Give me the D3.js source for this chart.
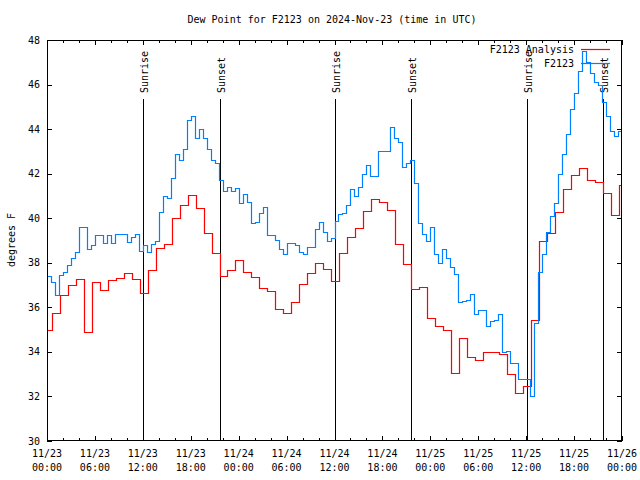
<!DOCTYPE html>
<html><head><meta charset="utf-8">
<script src="https://cdn.jsdelivr.net/npm/d3@7"></script>
<style>
body{margin:0;background:#fff}
svg{display:block}
text{font-family:"DejaVu Sans Mono","Liberation Mono",monospace;font-size:10px;fill:#000}
</style></head><body>
<svg id="c" width="640" height="480"></svg>
<script>
const title = "Dew Point for F2123 on 2024-Nov-23 (time in UTC)";
const yLabel = "degrees F";
const seriesNames = ["F2123 Analysis", "F2123"];
const seriesColors = ["#ff0000", "#0080ff"];
const yTicks = [30, 32, 34, 36, 38, 40, 42, 44, 46, 48];
const xTickLabels = [
  ["11/23","00:00"],["11/23","06:00"],["11/23","12:00"],["11/23","18:00"],
  ["11/24","00:00"],["11/24","06:00"],["11/24","12:00"],["11/24","18:00"],
  ["11/25","00:00"],["11/25","06:00"],["11/25","12:00"],["11/25","18:00"],
  ["11/26","00:00"]
];
const xStart = "2024-11-23T00:00:00Z";
const xEnd = "2024-11-26T00:00:00Z";
const sunLabels = ["Sunrise","Sunset","Sunrise","Sunset","Sunrise","Sunset"];
const sunTimes = ["2024-11-23T12:04:00Z","2024-11-23T21:42:00Z","2024-11-24T12:05:00Z",
                  "2024-11-24T21:38:00Z","2024-11-25T12:05:00Z","2024-11-25T21:40:00Z"];

// Analysis: hourly values, each starting at analysisStart + k hours
const analysisStart = "2024-11-22T23:36:00Z";
const analysisValues = [
  35.0, 35.73, 36.54, 36.99, 37.28, 34.9, 37.12, 36.78, 37.23, 37.32, 37.53, 37.28,
  36.63, 37.67, 38.66, 38.84, 40.0, 40.58, 41.06, 40.44, 39.35, 38.45, 37.40, 37.67,
  38.12, 37.59, 37.38, 36.85, 36.75, 35.91, 35.73, 36.25, 37.03, 37.55, 38.0, 37.73,
  37.18, 38.42, 39.14, 39.56, 40.34, 40.85, 40.73, 40.37, 38.84, 37.94, 36.81, 36.90,
  35.5, 35.16, 34.98, 33.04, 34.61, 33.76, 33.64, 34.0, 34.0, 33.9, 33.0, 32.14,
  32.49, 35.43, 39.0, 39.32, 40.3, 41.3, 41.94, 42.25, 41.71, 41.62, 41.12, 40.16, 41.48
];
// Observations: every 30 minutes from obsStart
const obsStart = "2024-11-23T00:00:00Z";
const obsValues = [
  37.41, 37.14, 36.57, 37.44, 37.6, 37.9, 38.2, 38.5, 39.59, 39.59, 38.6, 38.8,
  39.25, 39.25, 38.9, 39.25, 38.9, 39.29, 39.29, 39.29, 38.95, 39.14, 39.3, 38.54,
  38.8, 38.5, 38.85, 39.0, 40.3, 41.0, 40.9, 41.8, 42.9, 42.6, 43.1, 44.4,
  44.6, 43.6, 44.0, 43.6, 43.1, 42.6, 42.5, 41.7, 41.2, 41.4, 41.2, 41.35,
  40.7, 41.1, 40.74, 39.8, 39.84, 40.22, 40.52, 39.25, 39.25, 39.02, 38.6, 38.4,
  38.9, 38.9, 38.8, 38.5, 38.4, 38.7, 38.7, 39.5, 39.84, 39.4, 39.0, 39.1,
  39.89, 40.2, 40.22, 40.6, 41.3, 41.0, 41.4, 42.0, 42.4, 41.9, 41.9, 43.0,
  43.0, 43.0, 44.1, 43.6, 43.4, 42.3, 42.5, 42.6, 41.6, 39.8, 39.3, 39.0,
  39.59, 38.4, 38.0, 38.6, 38.2, 37.8, 37.5, 36.25, 36.3, 36.33, 36.6, 35.7,
  35.88, 35.88, 35.16, 35.4, 35.44, 35.7, 34.0, 34.05, 33.49, 33.5, 32.77, 32.77,
  32.77, 32.0, 35.3, 37.6, 38.4, 39.4, 40.1, 40.7, 42.0, 42.9, 43.8, 44.9,
  45.6, 46.6, 47.5, 47.0, 46.5, 46.1, 46.0, 45.2, 44.6, 43.9, 43.7, 43.9, 43.9
];

const HOUR = 3600e3;
const svg = d3.select("#c");
const L = 47, R = 622, T = 40, B = 441;
const x = d3.scaleUtc().domain([new Date(xStart), new Date(xEnd)]).range([L, R]);
const y = d3.scaleLinear().domain([30, 48]).range([B, T]);

const aStart = +new Date(analysisStart);
const analysis = analysisValues.map((v, k) => ({t: new Date(aStart + k * HOUR), v}));
analysis.push({t: new Date(aStart + analysisValues.length * HOUR), v: analysisValues[analysisValues.length - 1]});
const oStart = +new Date(obsStart);
const obs = obsValues.map((v, i) => ({t: new Date(oStart + i * HOUR / 2), v}));

svg.append("defs").append("clipPath").attr("id", "clip")
  .append("rect").attr("x", L).attr("y", T).attr("width", R - L).attr("height", B - T);

// Title
svg.append("text").attr("x", 332).attr("y", 23).attr("text-anchor", "middle").text(title);
// Y label
svg.append("text").attr("transform", "translate(15,240) rotate(-90)")
  .attr("text-anchor", "middle").text(yLabel);

// Sunrise / sunset
const sunG = svg.append("g");
sunTimes.forEach((s, i) => {
  const sx = Math.round(x(new Date(s))) + 0.5;
  sunG.append("line").attr("x1", sx).attr("x2", sx).attr("y1", 99).attr("y2", B)
    .attr("stroke", "#000").attr("stroke-width", 1).attr("shape-rendering", "crispEdges");
  sunG.append("text").attr("transform", `translate(${sx + 4},93) rotate(-90)`)
    .attr("text-anchor", "start").text(sunLabels[i]);
});

// Series (snap to pixel centres so 1px lines stay solid)
const line = d3.line()
  .x(d => Math.round(x(d.t)) + 0.5)
  .y(d => Math.round(y(d.v)) + 0.5)
  .curve(d3.curveStepAfter);
const dataG = svg.append("g").attr("clip-path", "url(#clip)");
dataG.append("path").datum(analysis).attr("d", line).attr("fill", "none")
  .attr("stroke", seriesColors[0]).attr("stroke-width", 1.2);
dataG.append("path").datum(obs).attr("d", line).attr("fill", "none")
  .attr("stroke", seriesColors[1]).attr("stroke-width", 1.2);

// Axes (gnuplot style, ticks inward, mirrored)
const major = d3.utcHour.every(6).range(new Date(xStart), new Date(+new Date(xEnd) + 1));
const minor = d3.utcHour.every(2).range(new Date(xStart), new Date(+new Date(xEnd) + 1))
  .filter(d => d.getUTCHours() % 6 !== 0);
function xAxisG(gen, yPos, size, vals) {
  const g = svg.append("g").attr("transform", `translate(0,${yPos})`)
    .call(gen(x).tickValues(vals).tickSize(size).tickSizeOuter(0).tickFormat(""));
  g.select(".domain").remove();
  g.selectAll("line").attr("shape-rendering", "crispEdges");
  return g;
}
xAxisG(d3.axisBottom, B, -5, major);
xAxisG(d3.axisBottom, B, -3, minor);
xAxisG(d3.axisTop, T, -5, major);
xAxisG(d3.axisTop, T, -3, minor);
function yAxisG(gen, xPos) {
  const g = svg.append("g").attr("transform", `translate(${xPos},0)`)
    .call(gen(y).tickValues(yTicks).tickSize(-5).tickSizeOuter(0).tickFormat(""));
  g.select(".domain").remove();
  g.selectAll("line").attr("shape-rendering", "crispEdges");
}
yAxisG(d3.axisLeft, L);
yAxisG(d3.axisRight, R);

// Tick labels
svg.append("g").selectAll("text").data(yTicks).join("text")
  .attr("x", L - 7).attr("y", d => y(d)).attr("dy", "0.35em")
  .attr("text-anchor", "end").text(d => d);
const xl = svg.append("g").selectAll("text").data(major).join("text")
  .attr("text-anchor", "middle");
xl.append("tspan").attr("x", d => x(d)).attr("y", 457).text((d, i) => xTickLabels[i][0]);
xl.append("tspan").attr("x", d => x(d)).attr("y", 471).text((d, i) => xTickLabels[i][1]);

// Border
svg.append("rect").attr("x", L + 0.5).attr("y", T + 0.5).attr("width", R - L - 1).attr("height", B - T - 1)
  .attr("fill", "none").attr("stroke", "#000").attr("stroke-width", 1).attr("shape-rendering", "crispEdges");

// Legend
seriesNames.forEach((n, i) => {
  const ly = 49 + i * 14;
  svg.append("text").attr("x", 574).attr("y", ly).attr("dy", "0.35em").attr("text-anchor", "end").text(n);
  svg.append("line").attr("x1", 581).attr("x2", 610).attr("y1", ly + 0.5).attr("y2", ly + 0.5)
    .attr("stroke", seriesColors[i]).attr("stroke-width", 1.2);
});
</script>
</body></html>
